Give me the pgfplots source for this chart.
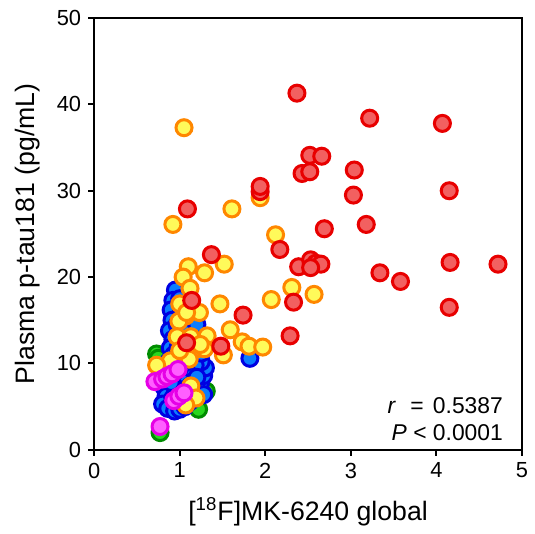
\documentclass[border=0pt]{standalone}
\usepackage{fontspec}
\setmainfont{Liberation Sans}
\usepackage{pgfplots}
\pgfplotsset{compat=1.18}

\definecolor{redfill}{RGB}{242,96,96}
\definecolor{rededge}{RGB}{232,0,0}
\definecolor{yelfill}{RGB}{255,250,90}
\definecolor{yeledge}{RGB}{255,135,0}
\definecolor{bluefill}{RGB}{10,125,255}
\definecolor{blueedge}{RGB}{0,0,225}
\definecolor{grnfill}{RGB}{40,215,30}
\definecolor{grnedge}{RGB}{0,140,0}
\definecolor{magfill}{RGB}{255,95,255}
\definecolor{magedge}{RGB}{230,0,230}

\pgfplotsset{
  dot/.style 2 args={only marks, mark=*, mark size=4pt,
    mark options={line width=1.5pt, draw=#1, fill=#2}},
}

\begin{document}
\begin{tikzpicture}
\begin{axis}[
  width=213.5pt, height=215.5pt, scale only axis,
  xmin=0, xmax=5, ymin=0, ymax=50,
  xtick={0,1,2,3,4,5}, ytick={0,10,20,30,40,50},
  tick align=outside, tick pos=left,
  major tick length=3pt,
  axis line style={line width=1pt},
  major tick style={line width=1pt, black},
  clip=false,
  /pgf/number format/assume math mode=true,
  tick label style={font=\fontsize{10.9}{12}\selectfont},
  xlabel={[\textsuperscript{18}F]MK-6240 global},
  ylabel={Plasma p-tau181 (pg/mL)},
  label style={font=\fontsize{13.3}{15}\selectfont},
  xlabel style={at={(rel axis cs:0.5,0)}, anchor=center, yshift=-31pt},
  ylabel style={at={(rel axis cs:0,0.5)}, anchor=center, yshift=33pt},
]
% green
\addplot[dot={grnedge}{grnfill}] coordinates {
(0.73,11.1) (0.77,2.0) (1.22,4.7) (1.31,6.8) (0.75,10.6)
};
% blue
\addplot[dot={blueedge}{bluefill}] coordinates {
(0.95,18.5) (0.92,17.3) (0.90,16.2) (0.91,15.0) (0.88,13.8) (0.92,12.8)
(0.89,11.8) (0.93,11.0) (0.87,10.2) (0.84,9.2) (0.86,8.2) (0.82,7.2)
(0.84,6.2) (0.80,5.3) (0.86,4.8) (0.94,4.5) (1.00,4.7) (1.06,5.0)
(1.12,5.6) (1.18,6.8) (1.24,7.6) (1.28,8.6) (1.30,9.5) (1.25,10.2)
(1.18,9.8) (1.10,8.8) (1.02,8.0) (0.95,7.2) (0.92,6.0) (0.98,5.8)
(1.05,6.6) (1.12,7.4) (1.20,8.4) (1.00,9.5) (1.08,10.2) (0.98,11.8)
(1.02,13.5) (0.97,14.5) (1.02,16.0) (1.00,17.5) (1.08,14.0) (1.15,15.2)
(1.20,14.5) (1.12,12.5) (1.25,11.2) (0.94,9.0) (0.90,7.8) (1.28,6.4)
(1.82,10.6) (1.22,12.5)
};
% yellow
\addplot[dot={yeledge}{yelfill}] coordinates {
(1.05,37.3) (0.92,26.1) (1.61,27.9) (1.94,29.2) (2.12,24.9) (1.10,21.2)
(1.04,20.0) (1.29,20.5) (1.52,21.5) (2.31,18.8) (2.57,18.0) (2.07,17.4)
(1.47,16.9) (1.12,18.7) (1.00,16.9) (1.07,15.5) (1.23,15.9) (0.99,14.9)
(1.59,13.9) (1.73,12.5) (1.81,12.0) (1.97,11.9) (1.51,11.0) (1.32,13.2)
(0.97,13.1) (1.13,13.1) (1.20,11.7) (1.29,11.7) (1.01,10.9) (0.89,10.3)
(0.73,9.8) (1.11,10.5) (1.13,7.4) (1.19,6.0) (1.07,5.2) (1.24,12.2)
(1.08,15.9) (1.00,11.5)
};
% red
\addplot[dot={rededge}{redfill}] coordinates {
(2.37,41.3) (3.22,38.4) (4.07,37.8) (2.52,34.1) (2.66,34.0) (2.43,32.0)
(2.52,32.2) (3.04,32.4) (3.03,29.5) (4.15,30.0) (1.94,29.9) (1.94,30.5)
(1.09,27.9) (3.18,26.1) (2.69,25.6) (2.17,23.2) (1.37,22.6) (2.39,21.2)
(2.53,22.0) (2.59,21.6) (2.65,21.5) (2.53,21.1) (4.16,21.7) (4.72,21.5)
(3.34,20.5) (3.58,19.5) (4.15,16.5) (2.33,17.1) (1.74,15.6) (1.14,17.3)
(2.29,13.2) (1.48,12.0) (1.08,12.4)
};
% magenta
\addplot[dot={magedge}{magfill}] coordinates {
(0.71,7.9) (0.80,8.2) (0.85,8.5) (0.91,8.8) (0.98,9.3) (0.77,2.7)
(0.93,5.7) (0.99,6.2) (1.05,6.6)
};
\node[anchor=base east, font=\fontsize{11.4}{13}\selectfont]
  at ([xshift=-6pt, yshift=18pt]rel axis cs:1,0) {\textit{r}\hspace{4pt} = \hspace{1.5pt}0.5387};
\node[anchor=base east, font=\fontsize{11.4}{13}\selectfont]
  at ([xshift=-6pt, yshift=4.5pt]rel axis cs:1,0) {\textit{P} < 0.0001};
\coordinate (ll) at (rel axis cs:0,0);
\coordinate (ur) at (rel axis cs:1,1);
\end{axis}
\path ([shift={(-47pt,-41.5pt)}]ll) rectangle ([shift={(6.5pt,9pt)}]ur);
\end{tikzpicture}
\end{document}
